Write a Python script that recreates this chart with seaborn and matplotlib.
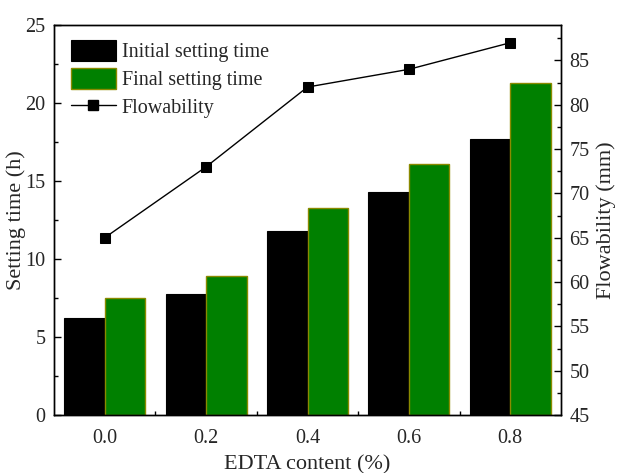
import numpy as np
import pandas as pd
import seaborn as sns
import matplotlib
matplotlib.use("Agg")
import matplotlib.pyplot as plt
from matplotlib.ticker import MultipleLocator, FixedLocator
from matplotlib.lines import Line2D

# EDTA dosage (%) and measured properties
edta_content = [0.0, 0.2, 0.4, 0.6, 0.8]
initial_setting = [6.25, 7.75, 11.8, 14.3, 17.7]
final_setting = [7.5, 8.9, 13.3, 16.1, 21.25]
flowability = [65, 73, 82, 84, 87]

series_names = ["Initial setting time", "Final setting time"]

sns.set_theme(style="ticks")
plt.rcParams["font.family"] = ["Liberation Serif", "DejaVu Serif"]
plt.rcParams["mathtext.fontset"] = "stix"

df = pd.DataFrame({
    "EDTA": edta_content * 2,
    "time": initial_setting + final_setting,
    "series": [series_names[0]] * len(edta_content) + [series_names[1]] * len(edta_content),
})

fig = plt.figure(figsize=(6.17, 4.73), dpi=100)
ax = fig.add_axes([54 / 617, 1 - 415 / 473, (561 - 54) / 617, (415 - 25) / 473])

sns.barplot(data=df, x="EDTA", y="time", hue="series", native_scale=True,
            palette={series_names[0]: "black", series_names[1]: "#008000"},
            width=0.8, saturation=1, legend=False, ax=ax, zorder=2)
for patch in ax.containers[0]:
    patch.set_edgecolor("black")
    patch.set_linewidth(0.8)
for patch in ax.containers[1]:
    patch.set_edgecolor("#8a8a00")
    patch.set_linewidth(1.0)

ax.set_xlim(-0.1, 0.9)
ax.set_ylim(0, 25)
ax.xaxis.set_major_locator(FixedLocator(edta_content))
ax.set_xticklabels([f"{v:.1f}" for v in edta_content])
ax.xaxis.set_minor_locator(FixedLocator([0.1, 0.3, 0.5, 0.7]))
ax.yaxis.set_major_locator(MultipleLocator(5))
ax.yaxis.set_minor_locator(MultipleLocator(2.5))
ax.set_axisbelow(True)
ax.tick_params(axis="both", which="major", direction="in", length=5, width=1,
               labelsize=14.5, color="black")
ax.tick_params(axis="both", which="minor", direction="in", length=3, width=1, color="black")
ax.tick_params(axis="x", which="major", pad=10)
ax.tick_params(axis="y", which="major", pad=6)
ax.tick_params(axis="x", which="both", top=False)
ax.tick_params(axis="y", which="both", right=False)
ax.set_xlabel("EDTA content (%)", fontsize=16, labelpad=5)
ax.set_ylabel("Setting time (h)", fontsize=16, labelpad=0)
for sp in ax.spines.values():
    sp.set_visible(True)
    sp.set_color("black")
    sp.set_linewidth(1.0)

ax2 = ax.twinx()
sns.lineplot(x=edta_content, y=flowability, ax=ax2, color="black", linewidth=1,
             marker="s", markersize=6.5, markeredgecolor="black", markerfacecolor="black")
ax2.set_ylim(45, 89)
ax2.yaxis.set_major_locator(MultipleLocator(5))
ax2.yaxis.set_minor_locator(MultipleLocator(2.5))
ax2.tick_params(axis="y", which="major", direction="in", length=5, width=1,
                labelsize=14.5, color="black", pad=6)
ax2.tick_params(axis="y", which="minor", direction="in", length=3, width=1, color="black")
ax2.set_ylabel("Flowability (mm)", fontsize=16, labelpad=5)
for sp in ax2.spines.values():
    sp.set_color("black")
    sp.set_linewidth(1.0)

handles = [ax.containers[0], ax.containers[1],
           Line2D([], [], color="black", linewidth=1, marker="s", markersize=6.5)]
labels = series_names + ["Flowability"]
ax.legend(handles, labels, loc="upper left", bbox_to_anchor=(0.034, 0.962),
          frameon=False, fontsize=14.5, borderpad=0, borderaxespad=0,
          handlelength=2.2, handleheight=1.25, labelspacing=0.28, handletextpad=0.3)

fig.savefig("out.png", dpi=100)
